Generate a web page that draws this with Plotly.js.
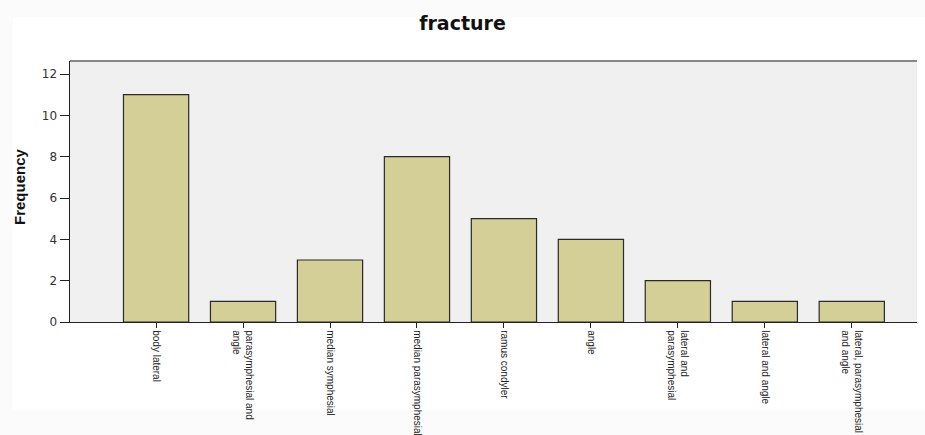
<!DOCTYPE html>
<html>
<head>
<meta charset="utf-8">
<script src="https://cdn.plot.ly/plotly-3.0.1.min.js"></script>
<style>html,body{margin:0;padding:0;background:#fff;}#chart{width:925px;height:435px;}</style>
</head>
<body>
<div id="chart"></div>
<script>
const categories = [
  "body lateral",
  "parasymphesial and<br>angle",
  "median symphesial",
  "median parasymphesial",
  "ramus condyler",
  "angle",
  "lateral and<br>parasymphesial",
  "lateral and angle",
  "lateral, parasymphesial<br>and angle"
];
const frequency = [11, 1, 3, 8, 5, 4, 2, 1, 1];
const yTicks = [0, 2, 4, 6, 8, 10, 12];

const W = 925, H = 435, ML = 70, MR = 8, MT = 61, MB = 113;
const PW = W - ML - MR, PH = H - MT - MB;
const px = x => (x - ML) / PW;
const py = y => (H - MB - y) / PH;

const trace = {
  type: 'bar',
  x: categories.map((c, i) => i),
  y: frequency,
  marker: { color: '#d4cf97', line: { color: '#2a2a2a', width: 1.2 } },
  width: 0.75,
  hoverinfo: 'y'
};

const edge = '#fbfbfb';
const layout = {
  width: W, height: H,
  margin: { l: ML, r: MR, t: MT, b: MB },
  paper_bgcolor: '#ffffff',
  plot_bgcolor: '#f0f0f0',
  showlegend: false,
  title: {
    text: '<b>fracture</b>',
    font: { family: 'DejaVu Sans, sans-serif', size: 19, color: '#111' },
    x: 0.5, xanchor: 'center', y: 1 - 23 / H, yref: 'container', yanchor: 'middle'
  },
  xaxis: {
    range: [-0.99, 8.75],
    tickmode: 'array',
    tickvals: categories.map((c, i) => i),
    ticktext: categories,
    tickangle: 90,
    ticks: 'outside', ticklen: 5, tickcolor: '#222', tickwidth: 1,
    tickfont: { family: 'Liberation Sans Narrow, Arial Narrow, Liberation Sans, sans-serif', size: 10, color: '#222' },
    showline: true, linecolor: '#222', linewidth: 1.2,
    showgrid: false, zeroline: false, fixedrange: true
  },
  yaxis: {
    range: [0, 12.63],
    tickmode: 'array',
    tickvals: yTicks,
    ticktext: yTicks.map(String),
    ticks: 'outside', ticklen: 9, tickcolor: '#222', tickwidth: 1,
    tickfont: { family: 'DejaVu Sans, sans-serif', size: 12, color: '#333' },
    showline: true, linecolor: '#222', linewidth: 1.5,
    showgrid: false, zeroline: false, fixedrange: true
  },
  annotations: [
    {
      text: '<b>Frequency</b>', textangle: -90,
      xref: 'paper', yref: 'paper', x: px(19), y: py(187),
      xanchor: 'center', yanchor: 'middle', showarrow: false,
      font: { family: 'Liberation Sans Narrow, Arial Narrow, Liberation Sans, sans-serif', size: 15, color: '#111' }
    }
  ],
  shapes: [
    { type: 'line', xref: 'paper', yref: 'paper', x0: 0, x1: 1, y0: 1, y1: 1, line: { color: '#888', width: 2 } },
    { type: 'rect', layer: 'below', xref: 'paper', yref: 'paper', x0: px(0), x1: px(W), y0: py(0), y1: py(17), fillcolor: edge, line: { width: 0 } },
    { type: 'rect', layer: 'below', xref: 'paper', yref: 'paper', x0: px(0), x1: px(13), y0: py(0), y1: py(H), fillcolor: edge, line: { width: 0 } },
    { type: 'rect', layer: 'below', xref: 'paper', yref: 'paper', x0: px(0), x1: px(W), y0: py(410), y1: py(H), fillcolor: edge, line: { width: 0 } }
  ]
};

Plotly.newPlot('chart', [trace], layout, { displayModeBar: false, staticPlot: true });
</script>
</body>
</html>
